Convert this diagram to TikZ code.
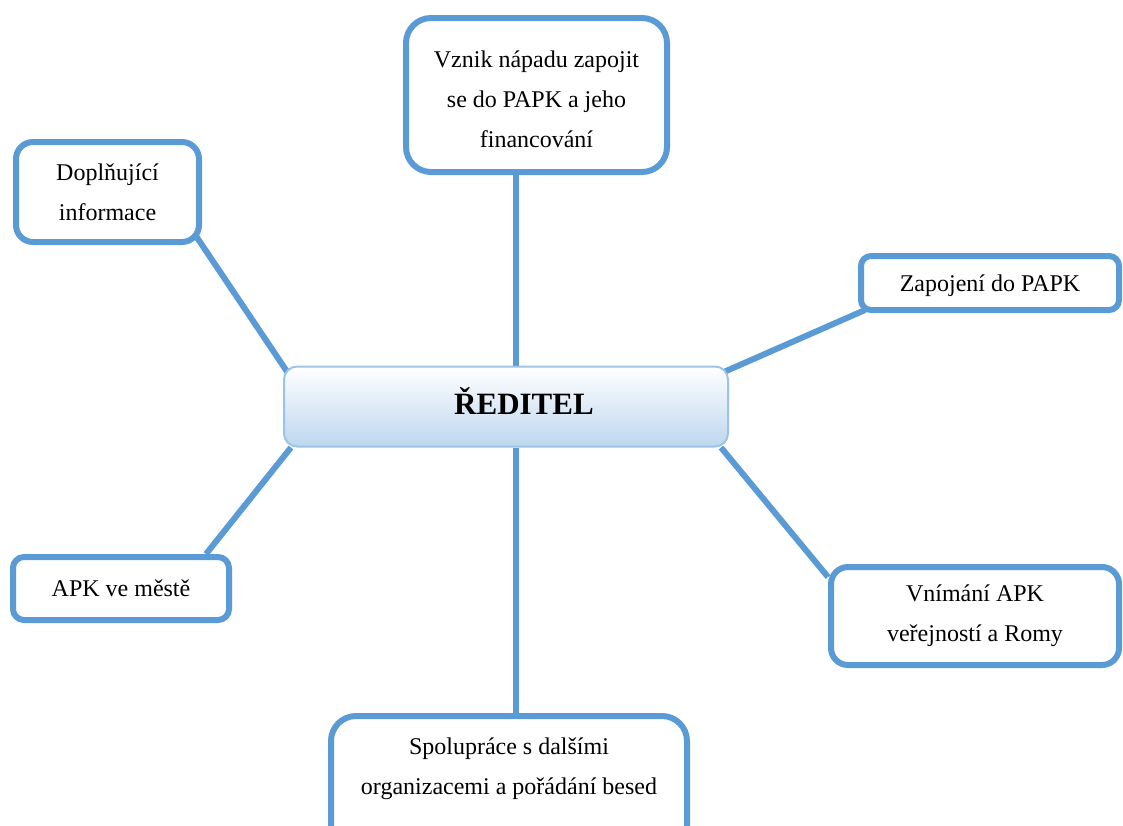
\documentclass[tikz,border=0pt]{standalone}
\usepackage{fontspec}
\setmainfont{Liberation Serif}
\usetikzlibrary{calc}
\pgfdeclarelayer{bg}
\pgfsetlayers{bg,main}
\definecolor{edgeblue}{HTML}{5B9BD5}
\definecolor{hubline}{HTML}{9DC3E6}
\definecolor{hubbot}{HTML}{BDD7EE}
\begin{document}
\begin{tikzpicture}[x=1pt,y=-1pt,
  topic/.style={draw=edgeblue, line width=6pt, fill=white, rounded corners=#1,
    inner sep=0pt, align=center, font=\fontsize{24}{40}\selectfont},
  topic/.default=18pt,
  hub/.style={draw=hubline, line width=2pt, top color=white, bottom color=hubbot,
    rounded corners=13pt, inner sep=0pt, font=\bfseries\fontsize{31}{36}\selectfont},
  link/.style={draw=edgeblue, line width=6pt}]
\useasboundingbox (0,0) rectangle (1123,825);
\clip (0,0) rectangle (1123,825);

\node[topic=25pt, minimum width=261pt, minimum height=154pt] (t) at (536.5,95)
  {\rule{0pt}{25pt}Vznik nápadu zapojit\\se do PAPK a jeho\\financování};
\node[topic=17pt, minimum width=183pt, minimum height=100pt] (d) at (107.5,192)
  {Doplňující\\informace};
\node[topic=10pt, minimum width=258pt, minimum height=54pt] (z) at (990,283)
  {\raisebox{-3pt}[\height][\depth]{Zapojení do PAPK}};
\node[topic=11pt, minimum width=216pt, minimum height=63pt] (a) at (121,588.5)
  {APK ve městě};
\node[topic=17pt, minimum width=288pt, minimum height=98pt] (v) at (975,616)
  {Vnímání APK\\veřejností a Romy};
\node[topic=25pt, minimum width=356pt, minimum height=140pt] (s) at (509,786)
  {Spolupráce s dalšími\\organizacemi a pořádání besed\\\mbox{}};
\node[hub, minimum width=444pt, minimum height=80pt] (c) at (506,406.5)
  {\hspace*{36pt}\raisebox{5pt}[\height][\depth]{ŘEDITEL}};

\coordinate (axis) at (516,0);
\begin{pgfonlayer}{bg}
\fill[white] (0,0) rectangle (1123,825);
\draw[link] (t.south -| axis) -- (c.north -| axis);
\draw[link] (c.south -| axis) -- (s.north -| axis);
\draw[link] ($(d.south east)+(-6,-9)$) -- ($(c.north west)+(6,9)$);
\draw[link] ($(z.south west)+(7,-3)$) -- ($(c.north east)+(-4,6)$);
\draw[link] ($(a.north east)+(-26,0)$) -- ($(c.south west)+(8,0)$);
\draw[link] ($(c.south east)+(-8,0)$) -- ($(v.north west)+(0,13)$);
\end{pgfonlayer}
\end{tikzpicture}
\end{document}
